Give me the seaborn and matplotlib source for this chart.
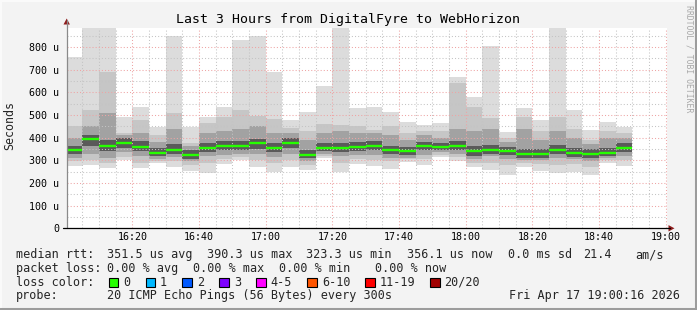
import numpy as np
import matplotlib
matplotlib.use("Agg")
import matplotlib.pyplot as plt
import seaborn as sns
from matplotlib.lines import Line2D
from matplotlib.patches import Rectangle, Polygon

# ---------------- data ----------------
bin_start_min = np.arange(0, 170, 5)          # 5-minute bins from 16:00 to 18:45
median = [347, 393, 364, 378, 361, 334, 347, 324, 353, 365, 364, 375, 356, 378, 325, 356, 356,
          361, 364, 346, 339, 364, 361, 365, 343, 347, 339, 330, 330, 347, 334, 330, 334, 356]
ping_max = [758, 900, 900, 493, 537, 446, 850, 446, 493, 537, 829, 847, 692, 476, 515, 629, 900,
            530, 537, 514, 470, 458, 464, 667, 579, 805, 424, 533, 478, 900, 520, 434, 467, 449]
hi2 = [452, 523, 688, 420, 478, 412, 511, 375, 464, 493, 523, 496, 482, 442, 430, 461, 457,
       452, 434, 450, 420, 430, 430, 640, 535, 485, 400, 493, 430, 490, 439, 390, 430, 420]
hi3 = [400, 450, 511, 410, 420, 380, 440, 365, 420, 430, 440, 450, 420, 420, 390, 420, 430,
       420, 420, 410, 390, 410, 400, 440, 430, 440, 380, 440, 390, 430, 400, 370, 400, 400]
hi4 = [365, 410, 390, 400, 385, 355, 370, 345, 375, 385, 385, 395, 378, 398, 345, 375, 378,
       382, 385, 365, 358, 382, 378, 385, 362, 368, 358, 352, 350, 368, 355, 350, 355, 375]
lo4 = [330, 365, 340, 355, 340, 318, 330, 308, 335, 345, 345, 350, 335, 355, 310, 340, 335,
       340, 345, 328, 322, 345, 345, 345, 320, 330, 322, 312, 312, 328, 315, 312, 318, 338]
lo3 = [312, 330, 312, 335, 318, 305, 315, 295, 318, 322, 330, 330, 315, 330, 295, 330, 318,
       322, 325, 312, 312, 325, 335, 330, 305, 318, 305, 300, 300, 310, 305, 298, 310, 320]
lo2 = [295, 300, 290, 315, 290, 295, 295, 280, 290, 305, 315, 300, 290, 300, 280, 320, 290,
       305, 300, 295, 305, 305, 325, 315, 290, 290, 280, 290, 285, 280, 285, 270, 300, 300]
ping_min = [277, 281, 268, 302, 265, 287, 272, 255, 243, 284, 300, 272, 249, 272, 258, 309, 249,
            283, 277, 263, 294, 280, 316, 297, 272, 258, 236, 272, 253, 246, 249, 236, 287, 277]

y_ticks = [0, 100, 200, 300, 400, 500, 600, 700, 800]
y_labels = ["0", "100 u", "200 u", "300 u", "400 u", "500 u", "600 u", "700 u", "800 u"]
x_ticks = [20, 40, 60, 80, 100, 120, 140, 160, 180]
x_labels = ["16:20", "16:40", "17:00", "17:20", "17:40", "18:00", "18:20", "18:40", "19:00"]

title = "Last 3 Hours from DigitalFyre to WebHorizon"
loss_labels = ["0", "1", "2", "3", "4-5", "6-10", "11-19", "20/20"]
loss_colors = ["#26ff00", "#00b8ff", "#0059ff", "#7e00ff", "#ff00ff", "#ff5500", "#ff0000", "#a10000"]

# ---------------- style ----------------
sns.set_theme(style="white")
plt.rcParams["font.family"] = ["DejaVu Sans Mono", "DejaVu Sans"]

W, H = 697, 310
BG = "#f3f3f3"
fig = plt.figure(figsize=(W / 100, H / 100), dpi=100, facecolor=BG)


def fx(px):
    return px / W


def fy(py):
    return 1 - py / H


x0, x1, ytop, ybot = 66.7, 666.7, 28.0, 228.3
ax = fig.add_axes([fx(x0), fy(ybot), (x1 - x0) / W, (ybot - ytop) / H])
ax.set_facecolor("white")
ax.set_xlim(0.267, 180.267)
ax.set_ylim(0, 884)

# smoke bands
bands = [(ping_min, ping_max, "#dcdcdc"), (lo2, hi2, "#c6c6c6"),
         (lo3, hi3, "#a2a2a2"), (lo4, hi4, "#5a5a5a")]
for lo, hi, col in bands:
    lo = np.array(lo)
    hi = np.array(hi)
    ax.bar(bin_start_min, hi - lo, bottom=lo, width=5, align="edge",
           color=col, linewidth=0, zorder=1)

# median line (loss 0 -> green)
ax.hlines(median, bin_start_min, bin_start_min + 5, colors="#26ff00",
          linewidth=1.7, zorder=4)

# grid
ax.set_xticks(x_ticks)
ax.set_xticklabels(x_labels)
ax.set_xticks([m for m in range(5, 181, 5) if m % 20 != 0], minor=True)
ax.set_yticks(y_ticks)
ax.set_yticklabels(y_labels)
ax.set_yticks(list(range(50, 900, 100)), minor=True)
ax.set_axisbelow(False)
ax.grid(which="major", color="#eea4a4", linestyle=(0, (1, 2)), linewidth=0.75, zorder=3)
ax.grid(which="minor", color="#c4c4c4", linestyle=(0, (1, 2)), linewidth=0.75, zorder=3)
ax.tick_params(which="both", length=0)
ax.tick_params(axis="y", pad=5.3, labelsize=7.2, labelcolor="black")
ax.tick_params(axis="x", pad=2.6, labelsize=7.2, labelcolor="black")
for s in ax.spines.values():
    s.set_visible(False)

# axes lines and arrows
fig.add_artist(Line2D([fx(x0), fx(x0)], [fy(ybot), fy(20)], color="#8a8a8a", linewidth=0.9))
fig.add_artist(Line2D([fx(63), fx(670)], [fy(ybot), fy(ybot)], color="black", linewidth=0.9))
fig.add_artist(Polygon([[fx(x0 - 3.2), fy(24.5)], [fx(x0 + 3.2), fy(24.5)], [fx(x0), fy(18.5)]],
                       closed=True, facecolor="#8e1b1b", edgecolor="none",
                       transform=fig.transFigure))
fig.add_artist(Polygon([[fx(668.5), fy(ybot - 3.2)], [fx(668.5), fy(ybot + 3.2)], [fx(674.5), fy(ybot)]],
                       closed=True, facecolor="#8e1b1b", edgecolor="none",
                       transform=fig.transFigure))

# texts
fig.text(fx(347.5), fy(19), title, ha="center", va="center", fontsize=9.5, color="black")
fig.text(fx(10), fy(125.5), "Seconds", ha="center", va="center", rotation=90, fontsize=8.4)
fig.text(fx(688.5), fy(59), "RRDTOOL / TOBI OETIKER", ha="center", va="center",
         rotation=270, fontsize=5.9, color="#a8a8a8")

LFS = 8.45
row1 = [(16, "median rtt:"), (107.3, "351.5 us avg"), (207.3, "390.3 us max"),
        (306.3, "323.3 us min"), (407.3, "356.1 us now"), (507.7, "0.0 ms sd"),
        (583, "21.4"), (635.7, "am/s")]
row2 = [(16, "packet loss:"), (107.3, "0.00 % avg"), (193.3, "0.00 % max"),
        (279.3, "0.00 % min"), (375.3, "0.00 % now")]
for y, row in [(254.7, row1), (268.3, row2)]:
    for x, t in row:
        fig.text(fx(x), fy(y), t, ha="left", va="center", fontsize=LFS)

fig.text(fx(16), fy(282.3), "loss color:", ha="left", va="center", fontsize=LFS)
box_x = [108.7, 145.7, 182.3, 219.3, 256.0, 307.3, 365.0, 430.0]
lab_x = [123.3, 160.0, 196.7, 234.3, 270.7, 322.0, 380.0, 444.0]
for bx, lx, lab, col in zip(box_x, lab_x, loss_labels, loss_colors):
    fig.add_artist(Rectangle((fx(bx), fy(282.3 + 4.6)), 9.5 / W, 9.3 / H,
                             facecolor=col, edgecolor="black", linewidth=0.8,
                             transform=fig.transFigure))
    fig.text(fx(lx), fy(282.3), lab, ha="left", va="center", fontsize=LFS)

fig.text(fx(16), fy(296), "probe:", ha="left", va="center", fontsize=LFS)
fig.text(fx(107.3), fy(296), "20 ICMP Echo Pings (56 Bytes) every 300s",
         ha="left", va="center", fontsize=LFS)
fig.text(fx(680), fy(296), "Fri Apr 17 19:00:16 2026", ha="right", va="center", fontsize=LFS)

# frame
fig.add_artist(Line2D([0, 1], [fy(0.5), fy(0.5)], color="#fbfbfb", linewidth=1.4))
fig.add_artist(Line2D([fx(0.5), fx(0.5)], [0, 1], color="#fbfbfb", linewidth=1.4))
fig.add_artist(Line2D([0, 1], [fy(309), fy(309)], color="#9c9c9c", linewidth=2.2))
fig.add_artist(Line2D([fx(696), fx(696)], [0, 1], color="#9c9c9c", linewidth=2.2))

fig.savefig("out.png", dpi=100, facecolor=BG)
